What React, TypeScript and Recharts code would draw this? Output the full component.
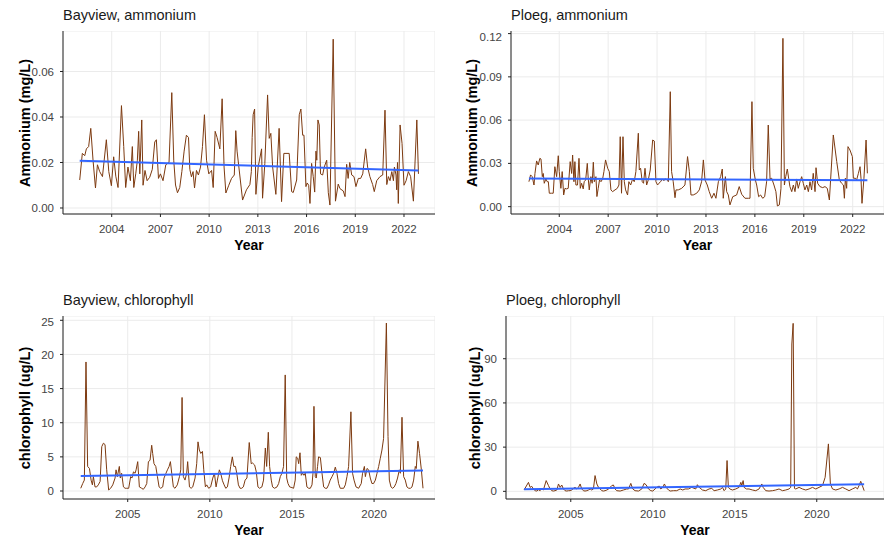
import { CartesianGrid, Line, LineChart, XAxis, YAxis } from "recharts";

type Pt = [number, number];

const bayviewAmmonium: Pt[] = [
  [2002.03, 0.0123], [2002.19, 0.024], [2002.34, 0.023], [2002.44, 0.026], [2002.58, 0.027], [2002.71, 0.035],
  [2002.85, 0.021], [2003.0, 0.0088], [2003.12, 0.019], [2003.26, 0.016], [2003.43, 0.0138], [2003.67, 0.03],
  [2003.82, 0.016], [2003.98, 0.0098], [2004.12, 0.0225], [2004.25, 0.014], [2004.39, 0.009], [2004.6, 0.045],
  [2004.74, 0.027], [2004.86, 0.009], [2005.0, 0.018], [2005.15, 0.012], [2005.27, 0.027], [2005.36, 0.009],
  [2005.48, 0.015], [2005.58, 0.021], [2005.66, 0.0337], [2005.73, 0.015], [2005.85, 0.0387], [2005.93, 0.01],
  [2006.05, 0.0165], [2006.18, 0.012], [2006.34, 0.0135], [2006.5, 0.017], [2006.65, 0.029], [2006.75, 0.03],
  [2006.88, 0.013], [2007.0, 0.015], [2007.16, 0.012], [2007.33, 0.019], [2007.53, 0.02], [2007.7, 0.0507],
  [2007.82, 0.021], [2007.93, 0.0101], [2008.05, 0.0067], [2008.19, 0.009], [2008.32, 0.016], [2008.46, 0.025],
  [2008.6, 0.032], [2008.73, 0.031], [2008.81, 0.017], [2008.91, 0.0137], [2009.01, 0.016], [2009.1, 0.0088],
  [2009.22, 0.0165], [2009.34, 0.0145], [2009.47, 0.018], [2009.59, 0.027], [2009.71, 0.041], [2009.84, 0.021],
  [2009.98, 0.015], [2010.15, 0.0165], [2010.25, 0.009], [2010.37, 0.0337], [2010.49, 0.031], [2010.66, 0.026],
  [2010.8, 0.048], [2010.92, 0.018], [2011.03, 0.0066], [2011.21, 0.01], [2011.38, 0.013], [2011.55, 0.0145],
  [2011.64, 0.034], [2011.72, 0.025], [2012.06, 0.0035], [2012.3, 0.008], [2012.51, 0.0103], [2012.6, 0.016],
  [2012.65, 0.031], [2012.71, 0.041], [2012.8, 0.0435], [2012.88, 0.006], [2013.02, 0.018], [2013.23, 0.026],
  [2013.29, 0.0043], [2013.43, 0.0196], [2013.6, 0.0497], [2013.7, 0.0306], [2013.8, 0.0328], [2013.91, 0.018],
  [2014.11, 0.006], [2014.31, 0.035], [2014.46, 0.0028], [2014.6, 0.024], [2014.93, 0.024], [2015.08, 0.0072],
  [2015.18, 0.0068], [2015.39, 0.0123], [2015.55, 0.041], [2015.65, 0.0435], [2015.76, 0.032], [2015.84, 0.032],
  [2015.96, 0.0094], [2016.04, 0.011], [2016.13, 0.01], [2016.21, 0.002], [2016.31, 0.0196], [2016.41, 0.0138],
  [2016.5, 0.007], [2016.58, 0.025], [2016.63, 0.021], [2016.7, 0.0387], [2016.78, 0.0365], [2016.86, 0.015],
  [2016.99, 0.0145], [2017.09, 0.018], [2017.24, 0.021], [2017.34, 0.0067], [2017.44, 0.0013], [2017.64, 0.0742],
  [2017.78, 0.003], [2017.95, 0.0105], [2018.06, 0.0085], [2018.26, 0.0075], [2018.37, 0.005], [2018.47, 0.0192],
  [2018.56, 0.013], [2018.66, 0.02], [2018.78, 0.0145], [2018.92, 0.0138], [2019.04, 0.0094], [2019.19, 0.013],
  [2019.33, 0.013], [2019.46, 0.015], [2019.64, 0.026], [2019.76, 0.018], [2019.9, 0.0138], [2020.07, 0.0103],
  [2020.17, 0.0072], [2020.32, 0.012], [2020.52, 0.0138], [2020.69, 0.0145], [2020.83, 0.043], [2020.94, 0.0103],
  [2021.04, 0.0138], [2021.14, 0.012], [2021.25, 0.016], [2021.35, 0.012], [2021.41, 0.018], [2021.51, 0.0145],
  [2021.55, 0.008], [2021.6, 0.02], [2021.65, 0.002], [2021.76, 0.0365], [2021.88, 0.0284], [2022.0, 0.01],
  [2022.13, 0.012], [2022.27, 0.016], [2022.41, 0.0138], [2022.58, 0.003], [2022.79, 0.0387], [2022.89, 0.015],
];

const ploegAmmonium: Pt[] = [
  [2002.14, 0.0173], [2002.24, 0.022], [2002.34, 0.0208], [2002.45, 0.015], [2002.51, 0.023], [2002.61, 0.0317],
  [2002.71, 0.0289], [2002.81, 0.0335], [2002.88, 0.033], [2002.96, 0.0208], [2003.02, 0.023], [2003.08, 0.0162],
  [2003.18, 0.0192], [2003.26, 0.0173], [2003.33, 0.0173], [2003.39, 0.0093], [2003.53, 0.0093], [2003.63, 0.0093],
  [2003.73, 0.0277], [2003.84, 0.0208], [2003.94, 0.0353], [2004.0, 0.0243], [2004.1, 0.0127], [2004.18, 0.0243],
  [2004.27, 0.0081], [2004.35, 0.0127], [2004.45, 0.0123], [2004.55, 0.0127], [2004.67, 0.0312], [2004.76, 0.023],
  [2004.82, 0.0358], [2004.9, 0.0173], [2004.96, 0.0312], [2005.02, 0.015], [2005.12, 0.015], [2005.21, 0.0335],
  [2005.29, 0.0127], [2005.37, 0.0162], [2005.47, 0.0123], [2005.53, 0.0173], [2005.62, 0.0185], [2005.72, 0.03],
  [2005.78, 0.0192], [2005.84, 0.0116], [2005.94, 0.0208], [2006.02, 0.0162], [2006.09, 0.0308], [2006.15, 0.0173],
  [2006.25, 0.0208], [2006.31, 0.007], [2006.39, 0.0127], [2006.47, 0.0185], [2006.56, 0.0173], [2006.66, 0.0192],
  [2006.74, 0.0243], [2006.84, 0.0324], [2006.97, 0.0266], [2007.07, 0.0243], [2007.17, 0.0116], [2007.27, 0.0104],
  [2007.42, 0.0116], [2007.56, 0.0127], [2007.66, 0.015], [2007.74, 0.0485], [2007.82, 0.0093], [2007.91, 0.0485],
  [2007.99, 0.0173], [2008.07, 0.0116], [2008.19, 0.0081], [2008.27, 0.0173], [2008.38, 0.015], [2008.5, 0.0192],
  [2008.6, 0.0173], [2008.7, 0.0243], [2008.85, 0.0509], [2008.91, 0.0254], [2008.99, 0.0266], [2009.09, 0.0173],
  [2009.17, 0.0162], [2009.26, 0.0266], [2009.36, 0.015], [2009.46, 0.0185], [2009.58, 0.0254], [2009.73, 0.0462],
  [2009.83, 0.0455], [2009.93, 0.0173], [2010.03, 0.015], [2010.11, 0.0162], [2010.22, 0.0173], [2010.32, 0.0192],
  [2010.42, 0.018], [2010.48, 0.0192], [2010.65, 0.0185], [2010.69, 0.0173], [2010.81, 0.0797], [2010.89, 0.0243],
  [2010.99, 0.0173], [2011.1, 0.0062], [2011.16, 0.0116], [2011.3, 0.0116], [2011.51, 0.0127], [2011.71, 0.015],
  [2011.87, 0.0347], [2011.98, 0.0243], [2012.08, 0.0081], [2012.22, 0.0081], [2012.43, 0.0093], [2012.59, 0.0116],
  [2012.73, 0.0173], [2012.84, 0.0324], [2012.94, 0.0185], [2013.08, 0.015], [2013.2, 0.0104], [2013.35, 0.0058],
  [2013.49, 0.0093], [2013.61, 0.0058], [2013.76, 0.0173], [2013.9, 0.0208], [2014.0, 0.0261], [2014.06, 0.0058],
  [2014.19, 0.0208], [2014.27, 0.0104], [2014.37, 0.0081], [2014.47, 0.0012], [2014.64, 0.0069], [2014.88, 0.0081],
  [2015.04, 0.0139], [2015.19, 0.0086], [2015.39, 0.0058], [2015.6, 0.0058], [2015.7, 0.0058], [2015.82, 0.0728],
  [2015.9, 0.0266], [2016.03, 0.0185], [2016.11, 0.015], [2016.23, 0.0069], [2016.35, 0.0081], [2016.48, 0.0058],
  [2016.6, 0.0069], [2016.72, 0.0173], [2016.82, 0.0566], [2016.93, 0.0192], [2017.03, 0.0197], [2017.17, 0.015],
  [2017.29, 0.0104], [2017.38, 0.0005], [2017.5, 0.0012], [2017.6, 0.0127], [2017.72, 0.1167], [2017.81, 0.015],
  [2017.89, 0.0208], [2017.99, 0.0261], [2018.07, 0.0197], [2018.15, 0.0139], [2018.26, 0.0104], [2018.36, 0.015],
  [2018.46, 0.0104], [2018.56, 0.0192], [2018.66, 0.0127], [2018.77, 0.0173], [2018.87, 0.0208], [2018.97, 0.0162],
  [2019.07, 0.0116], [2019.18, 0.015], [2019.28, 0.0104], [2019.38, 0.0173], [2019.48, 0.0116], [2019.58, 0.0231],
  [2019.69, 0.0104], [2019.75, 0.027], [2019.85, 0.0162], [2019.99, 0.0139], [2020.16, 0.0132], [2020.3, 0.0139],
  [2020.44, 0.0127], [2020.57, 0.0046], [2020.81, 0.0497], [2021.02, 0.0312], [2021.18, 0.0185], [2021.32, 0.0162],
  [2021.43, 0.015], [2021.49, 0.0058], [2021.55, 0.0197], [2021.63, 0.0127], [2021.71, 0.0416], [2021.83, 0.0393],
  [2021.98, 0.0347], [2022.04, 0.0197], [2022.16, 0.0197], [2022.24, 0.0185], [2022.35, 0.0231], [2022.45, 0.0277],
  [2022.51, 0.0197], [2022.57, 0.0023], [2022.69, 0.0197], [2022.82, 0.0462], [2022.9, 0.0231],
];

const bayviewChlorophyll: Pt[] = [
  [2002.14, 0.4], [2002.26, 1.1], [2002.36, 1.6], [2002.46, 18.9], [2002.56, 3.6], [2002.67, 3.3], [2002.77, 1.6],
  [2002.85, 0.9], [2002.91, 2.1], [2003.01, 0.6], [2003.11, 0.6], [2003.21, 0.9], [2003.32, 1.4], [2003.42, 6.5],
  [2003.52, 7.0], [2003.62, 6.8], [2003.72, 3.1], [2003.84, 0.15], [2003.96, 0.4], [2004.09, 0.9], [2004.23, 1.9],
  [2004.29, 3.1], [2004.37, 2.1], [2004.49, 3.6], [2004.55, 1.9], [2004.63, 2.6], [2004.74, 0.6], [2004.84, 0.4],
  [2004.94, 0.4], [2005.06, 0.4], [2005.18, 2.1], [2005.26, 1.9], [2005.35, 2.8], [2005.45, 2.6], [2005.51, 3.1],
  [2005.61, 4.3], [2005.71, 0.6], [2005.85, 0.4], [2005.95, 0.25], [2006.06, 0.6], [2006.16, 1.1], [2006.26, 4.3],
  [2006.36, 4.5], [2006.46, 6.7], [2006.52, 5.5], [2006.6, 4.0], [2006.71, 3.6], [2006.81, 2.1], [2006.91, 0.6],
  [2007.01, 0.4], [2007.13, 0.6], [2007.21, 1.9], [2007.33, 2.6], [2007.42, 3.1], [2007.52, 3.6], [2007.6, 4.3],
  [2007.68, 2.6], [2007.78, 0.6], [2007.88, 0.4], [2008.02, 0.9], [2008.15, 2.1], [2008.23, 3.1], [2008.31, 13.7],
  [2008.39, 2.1], [2008.49, 1.6], [2008.59, 2.6], [2008.65, 4.3], [2008.76, 0.6], [2008.86, 0.4], [2008.96, 0.6],
  [2009.1, 1.9], [2009.2, 4.0], [2009.28, 7.2], [2009.36, 6.0], [2009.45, 5.5], [2009.55, 5.8], [2009.63, 3.1],
  [2009.73, 0.6], [2009.81, 0.9], [2009.93, 0.4], [2010.05, 0.6], [2010.18, 1.9], [2010.28, 2.6], [2010.38, 0.6],
  [2010.46, 1.6], [2010.58, 3.1], [2010.66, 2.6], [2010.77, 1.5], [2010.87, 0.9], [2010.97, 0.4], [2011.07, 0.6],
  [2011.17, 1.9], [2011.27, 3.6], [2011.37, 5.0], [2011.46, 3.6], [2011.56, 3.6], [2011.64, 2.6], [2011.74, 0.9],
  [2011.84, 0.4], [2011.94, 0.4], [2012.04, 0.6], [2012.15, 1.6], [2012.26, 1.9], [2012.4, 7.1], [2012.52, 4.0],
  [2012.6, 4.1], [2012.73, 3.8], [2012.83, 2.8], [2012.93, 0.6], [2013.03, 0.4], [2013.17, 0.6], [2013.27, 1.6],
  [2013.38, 6.3], [2013.46, 3.6], [2013.56, 8.6], [2013.64, 3.6], [2013.74, 1.6], [2013.82, 0.6], [2013.94, 0.4],
  [2014.09, 0.6], [2014.19, 1.1], [2014.29, 2.1], [2014.39, 2.6], [2014.49, 3.6], [2014.59, 17.0], [2014.68, 1.9],
  [2014.76, 1.1], [2014.86, 0.6], [2015.0, 0.5], [2015.1, 0.4], [2015.2, 1.6], [2015.26, 5.0], [2015.35, 4.8],
  [2015.41, 4.0], [2015.49, 5.6], [2015.57, 2.3], [2015.65, 2.6], [2015.73, 2.3], [2015.81, 2.6], [2015.91, 0.6],
  [2016.02, 0.4], [2016.12, 0.4], [2016.22, 0.9], [2016.28, 2.6], [2016.34, 12.4], [2016.42, 2.1], [2016.48, 1.9],
  [2016.56, 3.6], [2016.62, 5.0], [2016.73, 4.9], [2016.83, 2.6], [2016.93, 0.6], [2017.03, 0.4], [2017.13, 0.4],
  [2017.23, 0.9], [2017.33, 1.6], [2017.44, 2.1], [2017.54, 2.6], [2017.64, 3.5], [2017.74, 2.6], [2017.84, 1.1],
  [2017.94, 0.4], [2018.05, 0.4], [2018.15, 0.4], [2018.25, 0.9], [2018.35, 2.1], [2018.45, 3.6], [2018.59, 11.6],
  [2018.69, 2.6], [2018.78, 1.6], [2018.9, 0.6], [2019.06, 0.4], [2019.22, 1.1], [2019.3, 2.6], [2019.41, 3.6],
  [2019.47, 2.1], [2019.57, 3.3], [2019.67, 3.1], [2019.77, 1.9], [2019.87, 1.1], [2019.97, 1.1], [2020.08, 1.6],
  [2020.18, 2.6], [2020.28, 3.6], [2020.38, 4.8], [2020.48, 6.0], [2020.58, 7.7], [2020.75, 24.6], [2020.85, 8.0],
  [2020.93, 1.6], [2021.03, 0.6], [2021.13, 0.4], [2021.23, 0.6], [2021.33, 1.1], [2021.43, 1.9], [2021.54, 3.1],
  [2021.6, 2.6], [2021.7, 10.8], [2021.8, 2.1], [2021.9, 1.6], [2022.0, 0.6], [2022.11, 0.4], [2022.21, 0.4],
  [2022.31, 0.6], [2022.41, 1.6], [2022.51, 3.6], [2022.57, 3.3], [2022.67, 7.3], [2022.77, 5.5], [2022.88, 3.1],
  [2022.98, 0.4],
];

const ploegChlorophyll: Pt[] = [
  [2002.15, 0.9], [2002.42, 6.1], [2002.52, 2.7], [2002.62, 3.4], [2002.72, 1.6], [2002.83, 0.45], [2002.93, 0.2],
  [2003.03, 1.1], [2003.13, 0.45], [2003.23, 1.6], [2003.33, 0.9], [2003.5, 7.3], [2003.64, 3.9], [2003.74, 1.6],
  [2003.84, 0.45], [2003.94, 0.2], [2004.04, 0.45], [2004.15, 0.9], [2004.25, 5.0], [2004.35, 2.7], [2004.45, 4.3],
  [2004.55, 1.6], [2004.65, 0.45], [2004.76, 0.2], [2004.86, 0.45], [2004.96, 0.45], [2005.06, 0.9], [2005.16, 2.0],
  [2005.26, 2.7], [2005.37, 1.6], [2005.47, 2.7], [2005.57, 5.0], [2005.67, 1.6], [2005.77, 0.45], [2005.87, 0.2],
  [2005.98, 0.45], [2006.08, 0.9], [2006.18, 1.6], [2006.28, 0.9], [2006.38, 1.6], [2006.48, 10.7], [2006.59, 5.0],
  [2006.69, 2.7], [2006.79, 1.6], [2006.89, 0.45], [2006.99, 0.2], [2007.09, 0.45], [2007.2, 0.9], [2007.3, 1.6],
  [2007.4, 2.7], [2007.5, 3.9], [2007.6, 4.3], [2007.7, 1.6], [2007.8, 0.45], [2008.01, 0.2], [2008.21, 0.9],
  [2008.41, 1.6], [2008.52, 1.6], [2008.66, 5.4], [2008.78, 1.6], [2008.92, 0.45], [2009.13, 0.2], [2009.33, 1.6],
  [2009.47, 5.4], [2009.59, 4.5], [2009.74, 1.6], [2009.88, 0.45], [2010.0, 0.2], [2010.14, 1.6], [2010.24, 2.7],
  [2010.39, 3.6], [2010.49, 1.6], [2010.61, 2.7], [2010.71, 5.0], [2010.81, 2.7], [2010.96, 0.9], [2011.06, 0.2],
  [2011.26, 0.45], [2011.46, 0.45], [2011.67, 1.6], [2011.83, 0.9], [2011.97, 1.6], [2012.17, 1.6], [2012.38, 2.7],
  [2012.62, 1.6], [2012.72, 4.5], [2012.83, 2.7], [2013.03, 0.9], [2013.23, 0.45], [2013.43, 1.6], [2013.6, 2.0],
  [2013.74, 0.45], [2013.94, 0.9], [2014.15, 1.6], [2014.25, 2.7], [2014.35, 0.45], [2014.45, 1.6], [2014.53, 20.9],
  [2014.61, 2.7], [2014.7, 1.6], [2014.86, 0.9], [2015.06, 1.6], [2015.26, 2.7], [2015.37, 6.1], [2015.43, 3.9],
  [2015.51, 7.3], [2015.57, 2.7], [2015.71, 1.6], [2015.87, 1.6], [2016.08, 0.9], [2016.28, 0.45], [2016.48, 1.6],
  [2016.65, 5.0], [2016.73, 2.7], [2016.89, 0.45], [2017.09, 0.2], [2017.3, 0.45], [2017.5, 0.9], [2017.7, 1.6],
  [2017.91, 0.45], [2018.11, 0.9], [2018.31, 1.6], [2018.41, 2.7], [2018.48, 100], [2018.56, 114], [2018.64, 2.0],
  [2018.72, 1.6], [2018.92, 2.7], [2019.13, 1.6], [2019.33, 0.9], [2019.53, 1.6], [2019.74, 2.7], [2019.94, 1.6],
  [2020.14, 2.7], [2020.35, 3.9], [2020.51, 9.5], [2020.71, 32.2], [2020.83, 5.0], [2020.96, 1.6], [2021.16, 0.9],
  [2021.36, 1.6], [2021.57, 2.7], [2021.77, 1.6], [2021.97, 0.45], [2022.17, 1.6], [2022.38, 2.7], [2022.48, 1.6],
  [2022.58, 3.9], [2022.68, 6.8], [2022.78, 3.9], [2022.89, 0.45],
];

// linear fit lines (geom_smooth lm)
const bayviewAmmoniumTrend: Pt[] = [[2002.03, 0.0208], [2022.89, 0.0165]];
const ploegAmmoniumTrend: Pt[] = [[2002.14, 0.0195], [2022.9, 0.0183]];
const bayviewChlorophyllTrend: Pt[] = [[2002.14, 2.2], [2022.98, 3.0]];
const ploegChlorophyllTrend: Pt[] = [[2002.15, 1.5], [2022.89, 4.8]];

const ammoniumYearTicks = [2004, 2007, 2010, 2013, 2016, 2019, 2022];
const chlorophyllYearTicks = [2005, 2010, 2015, 2020];
const bayviewAmmoniumTicks = [0, 0.02, 0.04, 0.06];
const ploegAmmoniumTicks = [0, 0.03, 0.06, 0.09, 0.12];
const bayviewChlorophyllTicks = [0, 5, 10, 15, 20, 25];
const ploegChlorophyllTicks = [0, 30, 60, 90];

const FONT = '"Liberation Sans", Arial, Helvetica, sans-serif';
const BROWN = "#7d3a10";
const BLUE = "#3366ff";
const Y_AXIS_W = 60;
const X_AXIS_H = 40;

type PanelProps = {
  title: string;
  yLabel: string;
  series: Pt[];
  trend: Pt[];
  xDomain: [number, number];
  yDomain: [number, number];
  xTicks: number[];
  yTicks: number[];
  fmt: (v: number) => string;
  left: number;
  top: number;
  w: number;
  h: number;
  yTitleX: number;
};

const toRows = (pts: Pt[]) => pts.map(([t, v]) => ({ t, v }));

function Panel(p: PanelProps) {
  return (
    <>
      <div
        style={{
          position: "absolute",
          left: p.left,
          top: p.top - 23,
          fontSize: 14.5,
          lineHeight: "15px",
          color: "#1a1a1a",
          whiteSpace: "nowrap",
        }}
      >
        {p.title}
      </div>
      <div
        style={{
          position: "absolute",
          left: p.yTitleX,
          top: p.top + p.h / 2,
          transform: "translate(-50%, -50%) rotate(-90deg)",
          fontWeight: 700,
          fontSize: 14.5,
          lineHeight: "15px",
          whiteSpace: "nowrap",
        }}
      >
        {p.yLabel}
      </div>
      <div
        style={{
          position: "absolute",
          left: p.left + p.w / 2,
          top: p.top + p.h + 31,
          transform: "translate(-50%, -50%)",
          fontWeight: 700,
          fontSize: 14,
          lineHeight: "14px",
        }}
      >
        Year
      </div>
      <div style={{ position: "absolute", left: p.left - Y_AXIS_W, top: p.top }}>
        <LineChart
          width={p.w + Y_AXIS_W}
          height={p.h + X_AXIS_H}
          margin={{ top: 0, right: 0, bottom: 0, left: 0 }}
        >
          <CartesianGrid stroke="#ebebeb" strokeWidth={1} />
          <XAxis
            dataKey="t"
            type="number"
            domain={p.xDomain}
            allowDataOverflow
            ticks={p.xTicks}
            height={X_AXIS_H}
            tickSize={3}
            tickMargin={8}
            stroke="#222"
            tick={{ fontSize: 11.5, fill: "#444", fontFamily: FONT }}
          />
          <YAxis
            type="number"
            domain={p.yDomain}
            allowDataOverflow
            ticks={p.yTicks}
            width={Y_AXIS_W}
            tickSize={3}
            tickMargin={6}
            stroke="#222"
            tickFormatter={p.fmt}
            tick={{ fontSize: 11.5, fill: "#444", fontFamily: FONT }}
          />
          <Line
            data={toRows(p.series)}
            dataKey="v"
            type="linear"
            stroke={BROWN}
            strokeWidth={1}
            dot={false}
            isAnimationActive={false}
          />
          <Line
            data={toRows(p.trend)}
            dataKey="v"
            type="linear"
            stroke={BLUE}
            strokeWidth={2}
            dot={false}
            isAnimationActive={false}
          />
        </LineChart>
      </div>
    </>
  );
}

export default function App() {
  return (
    <div
      style={{
        position: "absolute",
        left: 0,
        top: 0,
        width: 884,
        height: 537,
        overflow: "hidden",
        background: "#fff",
        fontFamily: FONT,
        color: "#000",
      }}
    >
      <Panel
        title="Bayview, ammonium"
        yLabel="Ammonium (mg/L)"
        series={bayviewAmmonium}
        trend={bayviewAmmoniumTrend}
        xDomain={[2001.0, 2023.91]}
        yDomain={[-0.00264, 0.0778]}
        xTicks={ammoniumYearTicks}
        yTicks={bayviewAmmoniumTicks}
        fmt={(v) => v.toFixed(2)}
        left={63}
        top={31}
        w={372}
        h={183}
        yTitleX={25}
      />
      <Panel
        title="Ploeg, ammonium"
        yLabel="Ammonium (mg/L)"
        series={ploegAmmonium}
        trend={ploegAmmoniumTrend}
        xDomain={[2001.04, 2023.92]}
        yDomain={[-0.0051, 0.1218]}
        xTicks={ammoniumYearTicks}
        yTicks={ploegAmmoniumTicks}
        fmt={(v) => v.toFixed(2)}
        left={511}
        top={31}
        w={373}
        h={183}
        yTitleX={472}
      />
      <Panel
        title="Bayview, chlorophyll"
        yLabel="chlorophyll (ug/L)"
        series={bayviewChlorophyll}
        trend={bayviewChlorophyllTrend}
        xDomain={[2001.06, 2023.71]}
        yDomain={[-1.17, 25.63]}
        xTicks={chlorophyllYearTicks}
        yTicks={bayviewChlorophyllTicks}
        fmt={(v) => String(v)}
        left={63}
        top={316}
        w={372}
        h={183}
        yTitleX={25}
      />
      <Panel
        title="Ploeg, chlorophyll"
        yLabel="chlorophyll (ug/L)"
        series={ploegChlorophyll}
        trend={ploegChlorophyllTrend}
        xDomain={[2001.05, 2024.1]}
        yDomain={[-5.2, 119.0]}
        xTicks={chlorophyllYearTicks}
        yTicks={ploegChlorophyllTicks}
        fmt={(v) => String(v)}
        left={506}
        top={316}
        w={378}
        h={183}
        yTitleX={475}
      />
    </div>
  );
}
